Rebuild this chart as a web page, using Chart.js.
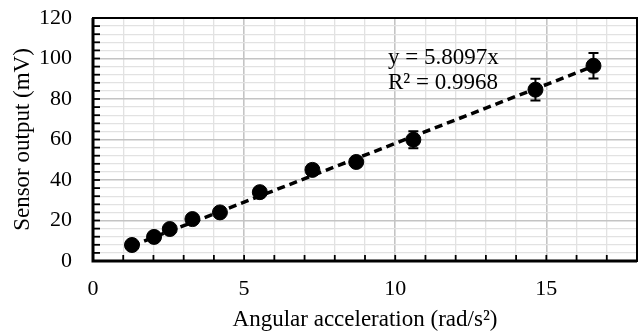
<!DOCTYPE html>
<html>
<head>
<meta charset="utf-8">
<script src="https://cdn.jsdelivr.net/npm/chart.js@4"></script>
<style>
html,body{margin:0;padding:0;background:#fff;}
#wrap{width:642px;height:331px;position:relative;}
</style>
</head>
<body>
<div id="wrap"><canvas id="c" width="642" height="331"></canvas></div>
<script>
// Data
const accel = [1.29, 2.02, 2.54, 3.29, 4.20, 5.52, 7.26, 8.71, 10.60, 14.64, 16.56];
const output = [7.9, 11.9, 15.8, 20.7, 24.0, 34.0, 45.0, 48.9, 59.9, 84.6, 96.4];
const errors = [1.0, 1.2, 1.5, 1.5, 1.8, 2.0, 2.5, 2.5, 4.2, 5.4, 6.3];
const trendX = [1.29, 16.56];
const trendY = [7.5, 96.2];
const trendLabel = ["y = 5.8097x", "R\u00B2 = 0.9968"];
const xTitle = "Angular acceleration (rad/s\u00B2)";
const yTitle = "Sensor output (mV)";
const xMajorTicks = [0, 5, 10, 15];
const yMajorTicks = [0, 20, 40, 60, 80, 100, 120];

const serif = "'Liberation Serif', 'Times New Roman', serif";

const framePlugin = {
  id: 'frame',
  beforeDatasetsDraw(chart) {
    const ctx = chart.ctx, xs = chart.scales.x, ys = chart.scales.y;
    ctx.save();
    ctx.strokeStyle = '#000';
    ctx.lineWidth = 2;
    accel.forEach((xv, i) => {
      const px = xs.getPixelForValue(xv);
      const top = ys.getPixelForValue(output[i] + errors[i]);
      const bot = ys.getPixelForValue(output[i] - errors[i]);
      ctx.beginPath();
      ctx.moveTo(px, top); ctx.lineTo(px, bot);
      ctx.moveTo(px - 5, top); ctx.lineTo(px + 5, top);
      ctx.moveTo(px - 5, bot); ctx.lineTo(px + 5, bot);
      ctx.stroke();
    });
    ctx.restore();
  },
  afterDraw(chart) {
    const ctx = chart.ctx, a = chart.chartArea, xs = chart.scales.x, ys = chart.scales.y;
    ctx.save();
    ctx.strokeStyle = '#000';
    // inward tick marks
    ctx.lineWidth = 1.8;
    ys.ticks.forEach(t => {
      const py = ys.getPixelForValue(t.value);
      ctx.beginPath(); ctx.moveTo(a.left, py); ctx.lineTo(a.left + 7, py); ctx.stroke();
    });
    xs.ticks.forEach(t => {
      const px = xs.getPixelForValue(t.value);
      ctx.beginPath(); ctx.moveTo(px, a.bottom); ctx.lineTo(px, a.bottom - 6); ctx.stroke();
    });
    // frame
    ctx.lineWidth = 2;
    ctx.strokeRect(a.left, a.top, a.right - a.left, a.bottom - a.top);
    ctx.lineWidth = 3;
    ctx.beginPath();
    ctx.moveTo(a.left, a.top); ctx.lineTo(a.left, a.bottom); ctx.lineTo(a.right, a.bottom);
    ctx.stroke();
    // trendline label
    ctx.fillStyle = '#000';
    ctx.font = "23px " + serif;
    ctx.textBaseline = 'alphabetic';
    ctx.textAlign = 'left';
    ctx.fillText(trendLabel[0], 388, 64);
    ctx.fillText(trendLabel[1], 388, 89);
    ctx.restore();
  }
};

new Chart(document.getElementById('c'), {
  type: 'scatter',
  data: {
    datasets: [
      {
        type: 'line',
        data: trendX.map((x, i) => ({x: x, y: trendY[i]})),
        borderColor: '#000',
        borderWidth: 3.5,
        borderDash: [8, 5],
        pointRadius: 0,
        fill: false,
        order: 2
      },
      {
        data: accel.map((x, i) => ({x: x, y: output[i]})),
        backgroundColor: '#000',
        borderColor: '#000',
        pointRadius: 7.5,
        pointHoverRadius: 7.5,
        order: 1
      }
    ]
  },
  options: {
    responsive: false,
    animation: false,
    events: [],
    layout: { autoPadding: false, padding: { top: 18, right: 5, left: 0, bottom: 0 } },
    plugins: { legend: { display: false }, tooltip: { enabled: false } },
    scales: {
      x: {
        type: 'linear', min: 0, max: 18,
        afterFit(s) { s.height = 70; s.paddingLeft = 0; s.paddingRight = 0; },
        border: { display: false },
        grid: {
          drawTicks: false,
          color: c => (c.tick && xMajorTicks.includes(c.tick.value)) ? '#c4c4c4' : '#e2e2e2',
          lineWidth: c => (c.tick && xMajorTicks.includes(c.tick.value)) ? 1.6 : 1.3
        },
        ticks: {
          stepSize: 1, autoSkip: false, maxRotation: 0, padding: 15,
          color: '#000',
          font: { family: serif, size: 22 },
          callback: v => xMajorTicks.includes(v) ? String(v) : ''
        },
        title: {
          display: true, text: xTitle, color: '#000',
          font: { family: serif, size: 23, lineHeight: 1.0 },
          padding: { top: 0, bottom: 0 }
        }
      },
      y: {
        type: 'linear', min: 0, max: 120,
        afterFit(s) { s.width = 93; s.paddingTop = 0; s.paddingBottom = 0; },
        border: { display: false },
        grid: {
          drawTicks: false,
          color: c => (c.tick && yMajorTicks.includes(c.tick.value)) ? '#c4c4c4' : '#e2e2e2',
          lineWidth: c => (c.tick && yMajorTicks.includes(c.tick.value)) ? 1.6 : 1.3
        },
        ticks: {
          stepSize: 4, autoSkip: false, padding: 21,
          color: '#000',
          font: { family: serif, size: 22 },
          callback: v => yMajorTicks.includes(v) ? String(v) : ''
        },
        title: {
          display: true, text: yTitle, color: '#000',
          font: { family: serif, size: 23, lineHeight: 1.0 },
          padding: { top: 11, bottom: 0 }
        }
      }
    }
  },
  plugins: [framePlugin]
});
</script>
</body>
</html>
